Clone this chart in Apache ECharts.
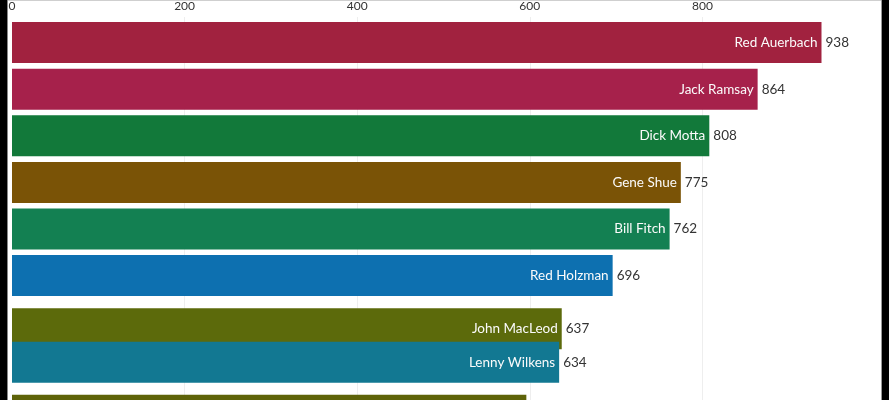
<!DOCTYPE html>
<html>
<head>
<meta charset="utf-8">
<script src="https://cdn.jsdelivr.net/npm/echarts@6/dist/echarts.min.js"></script>
<style>
html,body{margin:0;padding:0;background:#fff;overflow:hidden;}
#chart{width:889px;height:400px;}
</style>
</head>
<body>
<div id="chart"></div>
<script>
// Data (one frame of a bar-chart race: coaching wins)
const coaches = ['Red Auerbach','Jack Ramsay','Dick Motta','Gene Shue','Bill Fitch','Red Holzman','John MacLeod','Lenny Wilkens','Don Nelson'];
const wins = [938, 864, 808, 775, 762, 696, 637, 634, 596];
// rank position within the animated frame (fractional while bars swap places)
const rankPos = [1, 2, 3, 4, 5, 6, 7.14, 7.86, 9];
const xTicks = [0, 200, 400, 600, 800];

const palette = ['#A1223F','#A6214B','#12793A','#7A5306','#138052','#0D70B0','#5C6A0B','#127892','#5E6309'];

const chart = echarts.init(document.getElementById('chart'), null, {renderer:'canvas'});
const FONT = 'Lato, "Open Sans", sans-serif';

chart.setOption({
  animation: false,
  backgroundColor: '#fff',
  grid: {left: 12, top: 17, width: 863, height: 423, containLabel: false, outerBoundsMode: 'none'},
  xAxis: {
    type: 'value', position: 'top', min: 0, max: 1000, interval: 200,
    axisLine: {show: false}, axisTick: {show: false},
    axisLabel: {
      color: '#333', fontSize: 12, fontFamily: FONT, margin: 5,
      formatter: v => xTicks.indexOf(v) >= 0 ? String(v) : ''
    },
    splitLine: {show: true, showMinLine: false, showMaxLine: false, lineStyle: {color: '#eeeeee', width: 1}}
  },
  yAxis: {type: 'value', inverse: true, min: 0.45, max: 9.53, show: false},
  series: [{
    type: 'custom',
    clip: false,
    encode: {x: 0, y: 1},
    data: coaches.map((n, i) => [wins[i], rankPos[i], i]),
    renderItem: function (params, api) {
      const v = api.value(0), r = api.value(1), idx = api.value(2);
      const s = api.coord([0, r]);
      const e = api.coord([v, r]);
      const h = api.size([0, 1])[1] * 0.88;
      return {
        type: 'group',
        children: [
          {type: 'rect', shape: {x: s[0], y: s[1] - h / 2, width: e[0] - s[0], height: h},
           style: {fill: palette[idx]}},
          {type: 'text', style: {text: coaches[idx], x: e[0] - 4, y: e[1], align: 'right',
            verticalAlign: 'middle', fill: '#fbfbfb', fontSize: 13.5, fontFamily: FONT}},
          {type: 'text', style: {text: String(v), x: e[0] + 4, y: e[1], align: 'left',
            verticalAlign: 'middle', fill: '#333333', fontSize: 13.5, fontFamily: FONT}}
        ]
      };
    }
  }],
  graphic: {
    elements: [
      {type: 'rect', shape: {x: 0, y: 0, width: 889, height: 1}, style: {fill: '#cfcfcf'}, z: 99},
      {type: 'rect', shape: {x: 0, y: 0, width: 7, height: 400}, style: {fill: '#000000'}, z: 100},
      {type: 'rect', shape: {x: 7, y: 0, width: 1, height: 400}, style: {fill: '#888888'}, z: 100},
      {type: 'rect', shape: {x: 881, y: 0, width: 1, height: 400}, style: {fill: '#999999'}, z: 100},
      {type: 'rect', shape: {x: 882, y: 0, width: 7, height: 400}, style: {fill: '#000000'}, z: 100}
    ]
  }
});
</script>
</body>
</html>
